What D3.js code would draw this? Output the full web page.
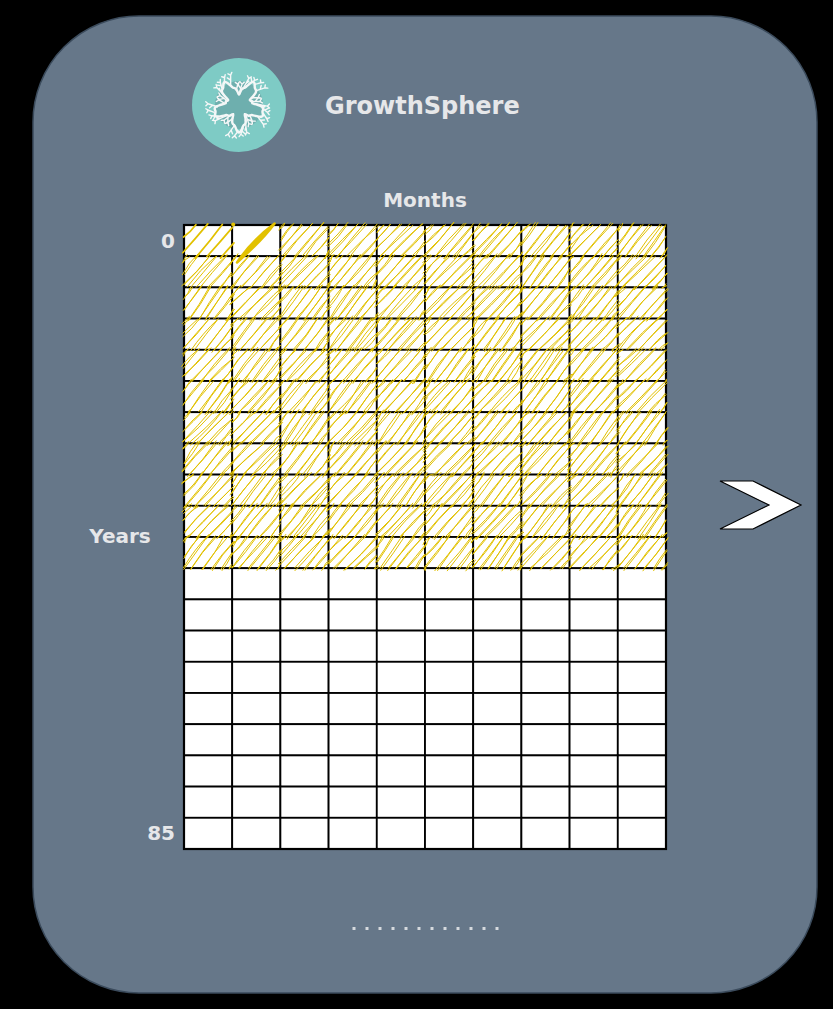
<!DOCTYPE html>
<html>
<head>
<meta charset="utf-8">
<script src="https://cdn.jsdelivr.net/npm/d3@7"></script>
<style>
  html, body { margin: 0; padding: 0; background: #000; }
  svg { display: block; }
  text { font-family: "DejaVu Sans", Verdana, sans-serif; font-weight: bold; fill: #e6e7e9; }
</style>
</head>
<body>
<script>
// ---- data ----
const title = "GrowthSphere";
const columnLabel = "Months";
const rowLabel = "Years";
const months = d3.range(10);          // columns
const years = d3.range(20);           // rows
const yearTicks = [{ row: 0, label: "0" }, { row: 19, label: "85" }];
const filledCount = 110;              // cells filled (row-major)
const currentCell = 1;                // cell left open, marked with a single stroke
const sparseCell = 0;                 // first cell, loosely hatched
const pageDots = d3.range(12);

// ---- layout ----
const W = 833, H = 1009;
const svg = d3.select("body").append("svg").attr("width", W).attr("height", H);
svg.append("rect").attr("width", W).attr("height", H).attr("fill", "#000");

svg.append("rect")
  .attr("x", 33).attr("y", 16).attr("width", 784).attr("height", 977)
  .attr("rx", 106).attr("ry", 106)
  .attr("fill", "#667789").attr("stroke", "#3b4b5c").attr("stroke-width", 1.5);

// ---- logo ----
const logo = svg.append("g").attr("transform", "translate(239,105)");
logo.append("circle").attr("r", 47).attr("fill", "#7ecbc5");
logo.append("circle").attr("r", 24).attr("fill", "#6aa6a6").attr("opacity", 0.75);
const ring = d3.range(0, 361, 3).map(a => {
  const t = a * Math.PI / 180;
  const r = 19 + 7 * Math.sin(5 * t) + 1.5 * Math.sin(17 * t);
  return [r * Math.cos(t), r * Math.sin(t)];
});
logo.append("path").attr("d", d3.line().curve(d3.curveCatmullRomClosed)(ring))
  .attr("fill", "none").attr("stroke", "#f4f7f7").attr("stroke-width", 2.4);
const twig = [];
d3.range(30).forEach(i => {
  const t = i * Math.PI * 2 / 30 + 0.13;
  const r0 = 19 + 7 * Math.sin(5 * t);
  const r1 = Math.min(r0 + 6 + (i % 3) * 3, 31);
  const x0 = r0 * Math.cos(t), y0 = r0 * Math.sin(t);
  const x1 = r1 * Math.cos(t + 0.12), y1 = r1 * Math.sin(t + 0.12);
  twig.push(`M${x0},${y0}L${x1},${y1}`);
  const t2 = t + (i % 2 ? 0.6 : -0.6);
  twig.push(`M${(x0 + x1) / 2},${(y0 + y1) / 2}l${4 * Math.cos(t2)},${4 * Math.sin(t2)}`);
  twig.push(`M${x1},${y1}l${3 * Math.cos(t - 0.7)},${3 * Math.sin(t - 0.7)}`);
  twig.push(`M${x1},${y1}l${3 * Math.cos(t + 0.8)},${3 * Math.sin(t + 0.8)}`);
});
logo.append("path").attr("d", twig.join("")).attr("fill", "none")
  .attr("stroke", "#f4f7f7").attr("stroke-width", 1.4).attr("stroke-linecap", "round");

svg.append("text").attr("x", 325).attr("y", 114).attr("font-size", 24).text(title);

// ---- grid ----
const x = d3.scaleBand().domain(months).range([184, 666]);
const y = d3.scaleBand().domain(years).range([225, 849]);

svg.append("text").attr("x", (x.range()[0] + x.range()[1]) / 2).attr("y", 207)
  .attr("text-anchor", "middle").attr("font-size", 20).text(columnLabel);
svg.append("text").attr("x", 120).attr("y", 543)
  .attr("text-anchor", "middle").attr("font-size", 20).text(rowLabel);
svg.selectAll("text.tick").data(yearTicks).join("text").attr("class", "tick")
  .attr("x", 175).attr("y", d => y(d.row) + y.bandwidth() / 2 + 7)
  .attr("text-anchor", "end").attr("font-size", 20).text(d => d.label);

const cells = [];
years.forEach(r => months.forEach(c => cells.push({ r, c, i: r * months.length + c })));

const grid = svg.append("g");
grid.selectAll("rect").data(cells).join("rect")
  .attr("x", d => x(d.c)).attr("y", d => y(d.r))
  .attr("width", x.bandwidth()).attr("height", y.bandwidth())
  .attr("fill", "#fff").attr("stroke", "#000").attr("stroke-width", 1.8);
grid.append("rect").attr("x", x.range()[0]).attr("y", y.range()[0])
  .attr("width", x.range()[1] - x.range()[0]).attr("height", y.range()[1] - y.range()[0])
  .attr("fill", "none").attr("stroke", "#000").attr("stroke-width", 2.2);

// ---- sketchy hachure ----
const rnd = d3.randomLcg(0.4217);
const jit = (a) => (rnd() * 2 - 1) * a;
function hachure(x0, y0, w, h, gap, angleDeg) {
  const a = angleDeg * Math.PI / 180;
  const dx = Math.cos(a), dy = -Math.sin(a);
  const nx = Math.sin(a), ny = Math.cos(a);
  const x1 = x0 + w, y1 = y0 + h;
  const proj = [[x0, y0], [x1, y0], [x0, y1], [x1, y1]].map(p => nx * p[0] + ny * p[1]);
  const tmin = d3.min(proj), tmax = d3.max(proj);
  const segs = [];
  for (let t = tmin + gap * (0.3 + rnd() * 0.5); t < tmax; t += gap * (0.8 + rnd() * 0.4)) {
    const px = nx * t, py = ny * t, pts = [];
    [x0, x1].forEach(cx => { const s = (cx - px) / dx; const yy = py + s * dy; if (yy >= y0 - 1e-6 && yy <= y1 + 1e-6) pts.push([cx, yy]); });
    [y0, y1].forEach(cy => { const s = (cy - py) / dy; const xx = px + s * dx; if (xx >= x0 - 1e-6 && xx <= x1 + 1e-6) pts.push([xx, cy]); });
    if (pts.length >= 2) {
      pts.sort((p, q) => p[0] - q[0]);
      segs.push([pts[0], pts[pts.length - 1]]);
    }
  }
  return segs;
}
function roughSeg(p, q, amp) {
  const a = [p[0] + jit(amp) - 0.8, p[1] + jit(amp) + 1];
  const b = [q[0] + jit(amp) + 0.8, q[1] + jit(amp) - 1];
  const m = [(a[0] + b[0]) / 2 + jit(amp * 1.3), (a[1] + b[1]) / 2 + jit(amp * 1.3)];
  return `M${a[0].toFixed(2)},${a[1].toFixed(2)}Q${m[0].toFixed(2)},${m[1].toFixed(2)} ${b[0].toFixed(2)},${b[1].toFixed(2)}`;
}

const filled = cells.filter(d => d.i < filledCount && d.i !== currentCell);
let dense = [], sparse = [];
filled.forEach(d => {
  const X = x(d.c), Y = y(d.r);
  if (d.i === sparseCell) {
    hachure(X, Y, x.bandwidth(), y.bandwidth(), 11, 50 + jit(2))
      .forEach(s => sparse.push(roughSeg(s[0], s[1], 1.0)));
  } else {
    const ang = 50 + jit(5);
    hachure(X, Y, x.bandwidth(), y.bandwidth(), 7.4, ang).forEach(s => {
      dense.push(roughSeg(s[0], s[1], 1.7));
      dense.push(roughSeg(s[0], s[1], 1.7));
    });
  }
});
svg.append("path").attr("d", dense.join("")).attr("fill", "none")
  .attr("stroke", "#e2c100").attr("stroke-width", 1).attr("stroke-linecap", "round");
svg.append("path").attr("d", sparse.join("")).attr("fill", "none")
  .attr("stroke", "#e2c100").attr("stroke-width", 1.7).attr("stroke-linecap", "round");

// marked (current) cell: a single bold stroke
{
  const d = cells[currentCell];
  const X = x(d.c), Y = y(d.r), bw = x.bandwidth(), bh = y.bandwidth();
  const p0 = [X + bw * 0.88, Y - 1.5], p1 = [X + bw * 0.1, Y + bh * 1.2];
  svg.append("path")
    .attr("d", `M${p0[0]},${p0[1]}Q${X + bw * 0.62},${Y + bh * 0.5} ${p1[0]},${p1[1]}Q${X + bw * 0.4},${Y + bh * 0.5} ${p0[0]},${p0[1]}Z`)
    .attr("fill", "#e2c100").attr("stroke", "#e2c100").attr("stroke-width", 2.5).attr("stroke-linejoin", "round");
  svg.append("circle").attr("cx", X + 1).attr("cy", Y - 0.5).attr("r", 2).attr("fill", "#e2c100");
}

// ---- next arrow ----
svg.append("path")
  .attr("d", "M720,481L753,481L801,505L753,529L720,529L769,505Z")
  .attr("fill", "#fff").attr("stroke", "#000").attr("stroke-width", 1.2).attr("stroke-linejoin", "miter");

// ---- page dots ----
const dx = d3.scalePoint().domain(pageDots).range([354, 497]);
svg.selectAll("rect.dot").data(pageDots).join("rect").attr("class", "dot")
  .attr("x", d => dx(d) - 1.5).attr("y", 927).attr("width", 3).attr("height", 3)
  .attr("fill", "#d6dade");
</script>
</body>
</html>
